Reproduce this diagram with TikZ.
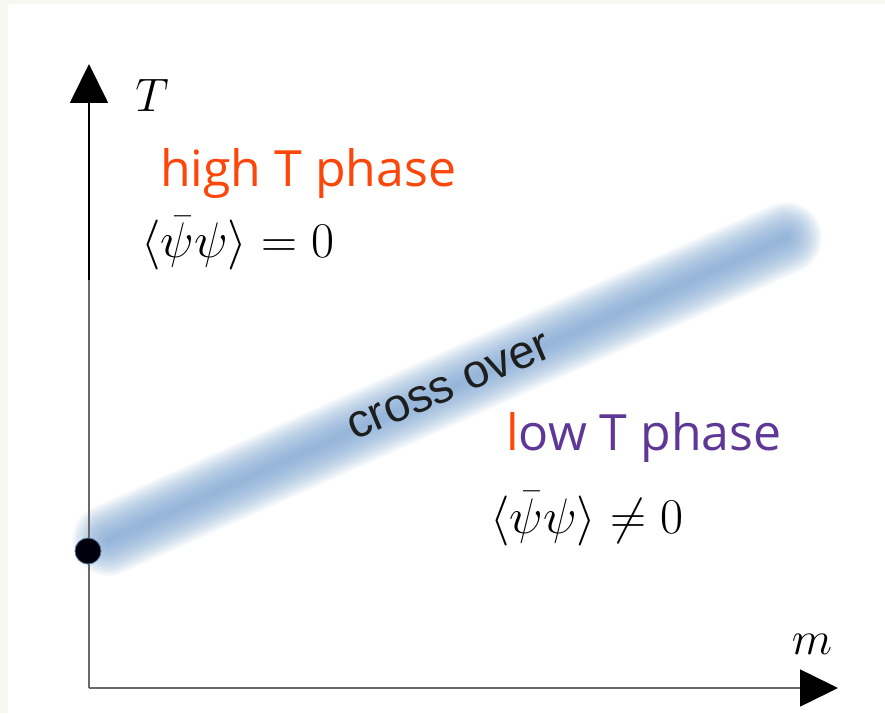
\RequirePackage{fix-cm}
\documentclass[tikz,border=0pt]{standalone}
\usepackage{fontspec}
\setsansfont{Open Sans}
\newfontfamily\crossfont{Liberation Sans}
\usetikzlibrary{arrows.meta}
\definecolor{PanelBeige}{RGB}{247,247,239}
\definecolor{AxisGray}{RGB}{105,105,105}
\definecolor{HighRed}{RGB}{252,70,10}
\definecolor{LowPurple}{RGB}{95,55,150}
\definecolor{BandBlue}{RGB}{122,164,212}
\definecolor{TextDark}{RGB}{30,30,30}

\begin{document}
\begin{tikzpicture}[x=1pt,y=1pt,
  axisline/.style={AxisGray, line width=1.6pt},
  phaselabel/.style={anchor=base west, inner sep=0pt, font=\sffamily\fontsize{50}{56}\selectfont},
  orderlabel/.style={anchor=base west, inner sep=0pt, font=\fontsize{50}{56}\selectfont},
  axislabel/.style={inner sep=0pt, font=\fontsize{47}{54}\selectfont}]
  \path[use as bounding box] (0,0) rectangle (885,713);
  \fill[PanelBeige] (0,0) rectangle (885,713);
  \fill[white] (8,0) rectangle (885,709);
  \coordinate (origin) at (89,25);
  \coordinate (ybreak) at (89,433);
  \coordinate (ytip) at (89,649);
  \coordinate (xtip) at (838,25);
  \coordinate (bandstart) at (108,173);
  \coordinate (bandend) at (786,475);
  \foreach \w in {72,69,...,6}
    \draw[BandBlue, opacity=0.055, line width=\w pt, line cap=round] (bandstart) -- (bandend);
  \draw[axisline] (origin) -- (ybreak);
  \draw[black, line width=1.8pt, -{Triangle[length=39pt,width=38pt]}] (ybreak) -- (ytip);
  \draw[axisline, -{Triangle[length=38pt,width=37pt,color=black]}] (origin) -- (xtip);
  \node[circle, fill=black!95!blue, draw=BandBlue!70!black, line width=0.8pt,
        minimum size=26pt, inner sep=0pt] (endpoint) at (88,162) {};
  \node[axislabel] (tlabel) at (152,618) {$T$};
  \node[axislabel] (mlabel) at (812,69) {$m$};
  \node[phaselabel, text=HighRed] (highphase) at (160,526) {high T phase};
  \node[orderlabel] (highorder) at (141,455) {$\langle\bar\psi\psi\rangle = 0$};
  \node[phaselabel, text=LowPurple] (lowphase) at (506,263) {{\color{HighRed}l}ow T phase};
  \node[orderlabel] (loworder) at (490,180) {$\langle\bar\psi\psi\rangle \neq 0$};
  \node[text=TextDark, rotate=23, inner sep=0pt, font=\crossfont\fontsize{47}{54}\selectfont]
    (crossover) at (449,326) {cross over};
\end{tikzpicture}
\end{document}
